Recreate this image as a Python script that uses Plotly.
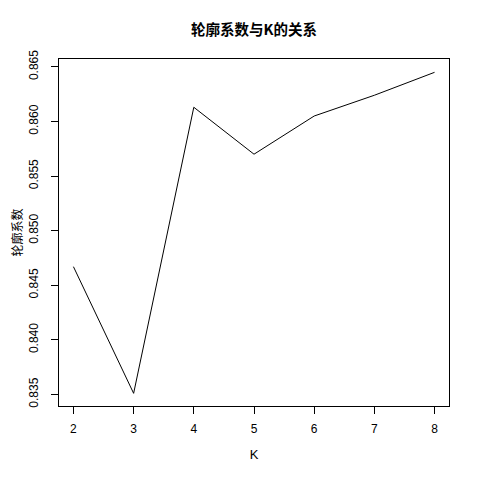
import plotly.graph_objects as go

k_values = [2, 3, 4, 5, 6, 7, 8]
silhouette = [0.8467, 0.8351, 0.8613, 0.8570, 0.8605, 0.8624, 0.8645]
y_ticks = [0.835, 0.840, 0.845, 0.850, 0.855, 0.860, 0.865]
y_tick_labels = ["0.835", "0.840", "0.845", "0.850", "0.855", "0.860", "0.865"]

font_lat = "Liberation Sans, Arial, sans-serif"
font_cjk = "Noto Sans CJK SC, sans-serif"

W, H = 464, 464  # page body adds an 8px offset

fig = go.Figure(go.Scatter(
    x=k_values, y=silhouette, mode="lines",
    line=dict(color="black", width=1),
    hoverinfo="skip",
))

fig.update_layout(
    width=W, height=H,
    margin=dict(l=51, r=W - 441, t=51, b=H - 398),
    paper_bgcolor="white", plot_bgcolor="white",
    showlegend=False,
    title=dict(
        text="<b>轮廓系数与K的关系</b>",
        font=dict(family=font_cjk, size=14.5, color="black"),
        x=246 / W, xanchor="center",
        y=1 - 22 / H, yanchor="middle", xref="container", yref="container",
    ),
    font=dict(family=font_lat, size=12, color="black"),
)

fig.update_xaxes(
    range=[1.76, 8.24],
    tickvals=k_values,
    ticks="outside", ticklen=7, tickwidth=1, tickcolor="black",
    showline=True, linecolor="black", linewidth=1, mirror=True,
    showgrid=False, zeroline=False,
    tickfont=dict(family=font_lat, size=12, color="black"),
    ticklabelstandoff=5,
    title=dict(text="K", font=dict(family=font_lat, size=13, color="black"), standoff=14),
    automargin=False,
)
fig.update_yaxes(
    range=[0.83394, 0.86572],
    tickvals=y_ticks, ticktext=y_tick_labels,
    tickangle=-90,
    ticks="outside", ticklen=7, tickwidth=1, tickcolor="black",
    showline=True, linecolor="black", linewidth=1, mirror=True,
    showgrid=False, zeroline=False,
    tickfont=dict(family=font_lat, size=12, color="black"),
    ticklabelstandoff=8,
    title=dict(text="轮廓系数", font=dict(family=font_cjk, size=12, color="black"), standoff=16),
    automargin=False,
)

fig.write_html("out.html")
